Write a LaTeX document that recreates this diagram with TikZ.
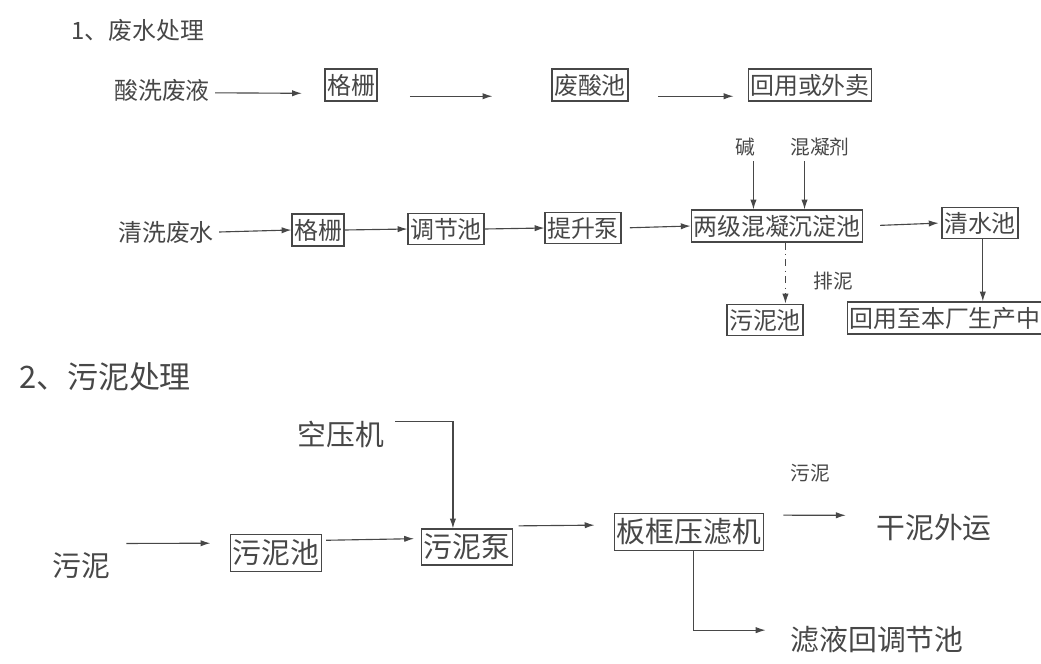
\documentclass[tikz,border=0pt]{standalone}
\usepackage{fontspec}
\setmainfont{Noto Sans CJK SC}
\usetikzlibrary{arrows.meta}
\tikzset{
  box/.style={draw, inner xsep=1.5pt, inner ysep=3.5pt},
  flow/.style={-{Latex[length=7pt,width=4.5pt]}, line width=0.8pt},
  big/.style={font=\fontsize{20.5}{24}\selectfont},
  small/.style={font=\fontsize{14}{16}\selectfont},
}
\begin{document}
\begin{tikzpicture}[x=0.025cm, y=-0.025cm, color=black!72, line width=0.8pt,
    every node/.style={font=\fontsize{17}{20}\selectfont}]
   \useasboundingbox (0,0) rectangle (1041,664);
   % 1 waste water
   \node (title1) at (138,30) {1、废水处理};
   \node (sx) at (162,90) {酸洗废液};
   \node[box] (gs1) at (351,85) {格栅};
   \node[box] (fsc) at (590,85) {废酸池};
   \node[box] (hy1) at (810,85) {回用或外卖};
   \draw[flow, shorten >=16pt] ([yshift=-2pt]sx.east) -- ([yshift=-6pt]gs1.west);
   \draw[flow, shorten <=23pt, shorten >=42pt] ([yshift=-8pt]gs1.east) -- ([yshift=-8pt]fsc.west);
   \draw[flow, shorten <=21pt, shorten >=10pt] ([yshift=-8pt]fsc.east) -- ([yshift=-8pt]hy1.west);
   \node (qx) at (166,232) {清洗废水};
   \node[box] (gs2) at (318,230) {格栅};
   \node[box] (tj) at (446,229) {调节池};
   \node[box] (ts) at (583,228) {提升泵};
   \node[box] (ljc) at (777,226) {两级混凝沉淀池};
   \node[box] (qsc) at (980,223) {清水池};
   \node[small] (jian) at (745,147) {碱};
   \node[small] (hnj) at (820,147) {混凝剂};
   \node[small] (pn) at (833,281) {排泥};
   \node[box] (wnc1) at (765,320) {污泥池};
   \node[box] (hy2) at (945,318) {回用至本厂生产中};
   \draw[flow] (qx.east) -- (gs2.west);
   \draw[flow] (gs2.east) -- (tj.west);
   \draw[flow] (tj.east) -- (ts.west);
   \draw[flow, shorten <=6pt] (ts.east) -- (ljc.west);
   \draw[flow, shorten <=12pt, shorten >=2pt] (ljc.east) -- (qsc.west);
   \draw[flow] ([xshift=6pt]jian.south) -- ([xshift=6pt]jian.south |- ljc.north);
   \draw[flow] ([xshift=-11pt]hnj.south) -- ([xshift=-11pt]hnj.south |- ljc.north);
   \draw[flow, dash pattern=on 5pt off 3pt on 1pt off 3pt] ([xshift=6pt]ljc.south) -- ([xshift=6pt]ljc.south |- wnc1.north);
   \draw[flow] ([xshift=2pt]qsc.south) -- ([xshift=2pt]qsc.south |- hy2.north);
   % 2 sludge
   \node[font=\fontsize{22}{26}\selectfont] (title2) at (105,377) {2、污泥处理};
   \node[big] (kyj) at (341,434) {空压机};
   \node[big] (wn) at (81,566) {污泥};
   \node[big, box] (wnc2) at (276,553) {污泥池};
   \node[big, box] (wnb) at (467,547) {污泥泵};
   \node[big, box] (bk) at (689,532) {板框压滤机};
   \node[small] (wn2) at (810,473) {污泥};
   \node[big] (gn) at (934,528) {干泥外运};
   \node[big] (ly) at (877,640) {滤液回调节池};
   \draw[flow] ([xshift=4pt,yshift=9pt]kyj.east) -| ([xshift=-10pt]wnb.north);
   \draw[flow, shorten <=8pt, shorten >=14pt] ([yshift=16pt]wn.east) -- ([yshift=7pt]wnc2.west);
   \draw[flow, shorten <=3pt, shorten >=5pt] ([yshift=9pt]wnc2.east) -- ([yshift=6pt]wnb.west);
   \draw[flow, shorten <=4pt, shorten >=14pt] ([yshift=15pt]wnb.east) -- ([yshift=5pt]bk.west);
   \draw[flow, shorten <=14pt, shorten >=18pt] ([yshift=12pt]bk.east) -- ([yshift=9pt]gn.west);
   \draw[flow] ([xshift=3pt]bk.south) |- ([xshift=-14pt,yshift=7pt]ly.west);
\end{tikzpicture}
\end{document}
